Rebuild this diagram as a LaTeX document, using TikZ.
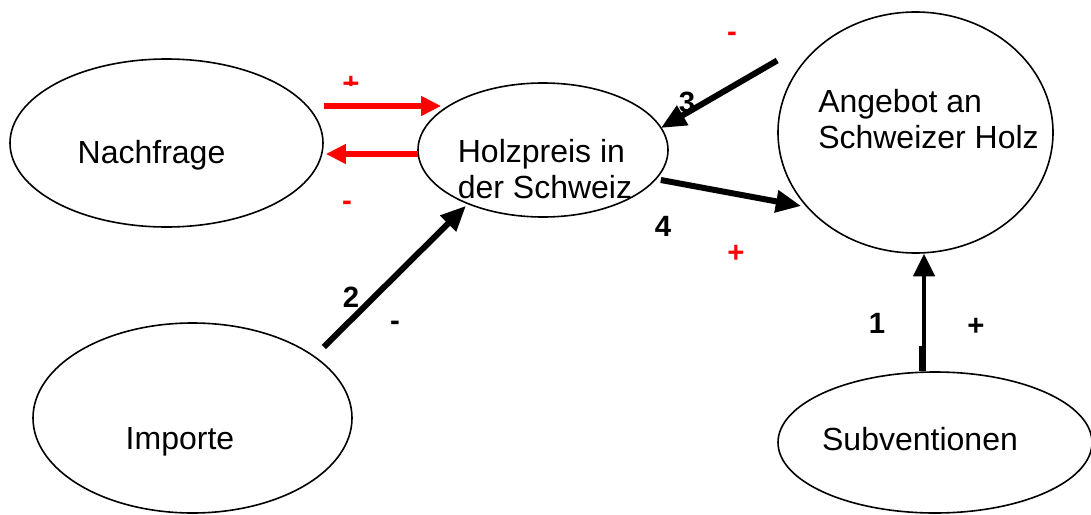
\documentclass[tikz,border=0pt]{standalone}
\usepackage{fontspec}
\setmainfont{Liberation Sans}
\usetikzlibrary{arrows.meta, calc, shapes.geometric}

\begin{document}
\begin{tikzpicture}[
    x=0.75pt,
    y=-0.75pt,
    bubble/.style={ellipse, draw, line width=1.2pt, inner sep=0pt},
    bubbletext/.style={font=\fontsize{24}{27}\selectfont, inner sep=0pt, align=left},
    sign/.style={font=\fontsize{22}{24}\selectfont\bfseries, inner sep=0pt},
    redarrow/.style={-{Triangle[length=15pt, width=14pt]}, red, line width=4.5pt},
    blackarrow/.style={-{Triangle[length=19pt, width=16pt]}, line width=4.5pt},
    thinarrow/.style={-{Triangle[length=17pt, width=16pt]}, line width=3pt},
]

    \useasboundingbox (0,0) rectangle (1091,514);

    \node[bubble, minimum width=313pt*0.75, minimum height=168pt*0.75,
        label={[bubbletext, xshift=-11.25pt, yshift=-9pt]center:Nachfrage}]                      (nach) at (166.5,143) {};
    \node[bubble, minimum width=250pt*0.75, minimum height=134pt*0.75,
        label={[bubbletext, xshift=1.5pt, yshift=-14.5pt]center:Holzpreis in\\der Schweiz}]      (holz) at (543,150) {};
    \node[bubble, minimum width=275pt*0.75, minimum height=241pt*0.75,
        label={[bubbletext, xshift=9.75pt, yshift=9.75pt]center:Angebot an\\Schweizer Holz}]     (ang)  at (915.5,132.5) {};
    \node[bubble, minimum width=319pt*0.75, minimum height=190pt*0.75,
        label={[bubbletext, xshift=-9.4pt, yshift=-18pt]center:Importe}]                         (imp)  at (192.5,418) {};
    \node[bubble, minimum width=314pt*0.75, minimum height=141pt*0.75,
        label={[bubbletext, xshift=-11.25pt, yshift=2.25pt]center:Subventionen}]                 (sub)  at (935,442.5) {};

    \path
        ($(nach.east)+(0,-37)$)   edge [redarrow]   ($(holz.west)+(24,-44)$)
        ($(holz.west)+(1,4)$)     edge [redarrow]   ($(nach.east)+(2,11)$)
        ($(ang.west)+(0,-72)$)    edge [blackarrow] ($(holz.east)+(-8,-22)$)
        ($(holz.east)+(-8,30)$)   edge [blackarrow] ($(ang.west)+(24,73.5)$)
        ($(imp.east)+(-29,-71)$)  edge [blackarrow] ($(holz.south)+(-77,-12)$)
        ($(sub.north)+(-11,0)$)   edge [thinarrow]  ($(ang.south)+(8.5,0)$)
    ;
    \draw[line width=5.25pt] ($(sub.north)+(-12.5,0)$) -- ($(sub.north)+(-12.5,-25)$);

    % signs and numbers
    \begin{scope}
        \clip (320,60) rectangle (380,85);
        \node[sign, red] (plustop) at (351,85) {+};
    \end{scope}
    \node[sign, red] (minusleft)  at (347,206) {-};
    \node[sign, red] (minustop)   at (732,37)  {-};
    \node[sign, red] (plusmid)    at (736,254) {+};
    \node[sign]      (three)      at (687,102) {3};
    \node[sign]      (four)       at (663,226) {4};
    \node[sign]      (two)        at (351,297) {2};
    \node[sign]      (minusimp)   at (395,326) {-};
    \node[sign]      (one)        at (877,323) {1};
    \node[sign]      (plussub)    at (976,327) {+};

\end{tikzpicture}
\end{document}
